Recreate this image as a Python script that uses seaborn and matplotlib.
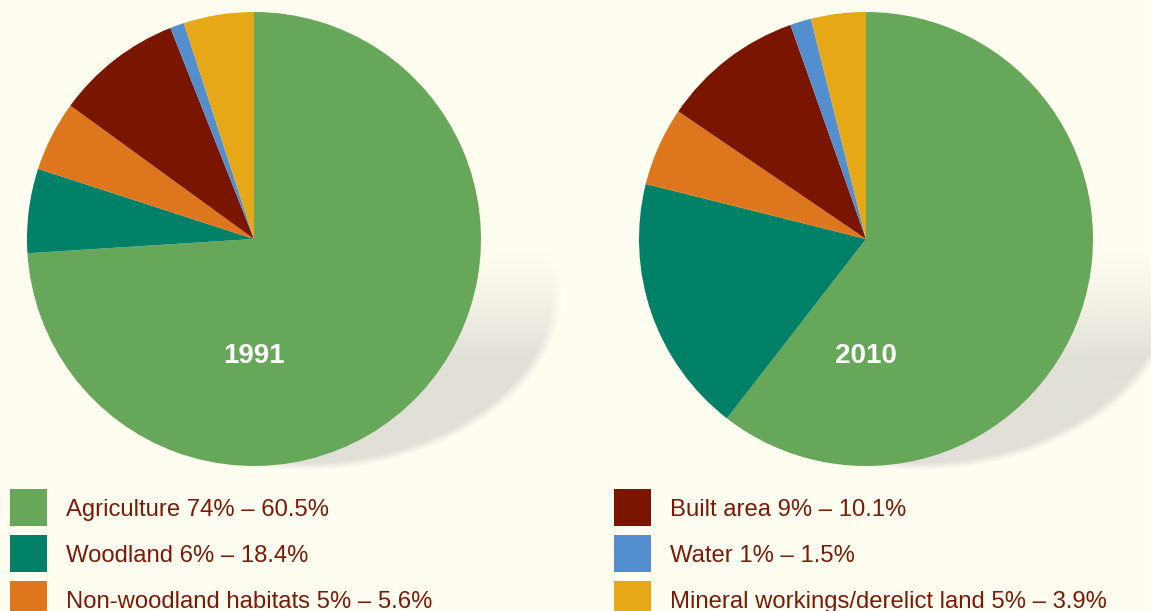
import matplotlib
matplotlib.use("Agg")
import numpy as np
import matplotlib.pyplot as plt
from matplotlib.colors import to_rgb
from matplotlib.patches import Rectangle
import seaborn as sns

categories = ["Agriculture", "Woodland", "Non-woodland habitats",
              "Built area", "Water", "Mineral workings/derelict land"]
share_1991 = [74, 6, 5, 9, 1, 5]
share_2010 = [60.5, 18.4, 5.6, 10.1, 1.5, 3.9]
years = ["1991", "2010"]
legend_labels = ["Agriculture 74% \u2013 60.5%", "Woodland 6% \u2013 18.4%",
                 "Non-woodland habitats 5% \u2013 5.6%", "Built area 9% \u2013 10.1%",
                 "Water 1% \u2013 1.5%", "Mineral workings/derelict land 5% \u2013 3.9%"]

colors = ["#66a75a", "#008067", "#de761d", "#7a1600", "#538fcf", "#e6a817"]
bg = "#fffdf0"
text_col = "#7a1a08"
shadow_col = "#e1e0d7"

sns.set_style("white")
plt.rcParams["font.family"] = ["Liberation Sans", "DejaVu Sans"]

fig = plt.figure(figsize=(11.51, 6.11), dpi=100, facecolor=bg)
ax = fig.add_axes([0, 0, 1, 1])
ax.set_facecolor(bg)

H = 611
centers = [(254, H - 239), (866, H - 239)]
radius = 227


def shadow(cx, cy):
    # soft elliptical drop shadow below-right of the pie, fading towards the top
    ex, ey, a, b, ang = cx + 78, cy - 74, 232, 156, np.deg2rad(8)
    xs = np.arange(ex - a - 20, ex + a + 20)
    ys = np.arange(ey - b - 20, ey + b + 20)
    X, Y = np.meshgrid(xs, ys)
    u = (X - ex) * np.cos(ang) + (Y - ey) * np.sin(ang)
    v = -(X - ex) * np.sin(ang) + (Y - ey) * np.cos(ang)
    d = np.sqrt((u / a) ** 2 + (v / b) ** 2)
    edge = np.clip((1 - d) / 0.05, 0, 1)
    vert = np.clip((cy - 10 - Y) / 110, 0, 1) ** 1.3
    alpha = edge * vert
    img = np.zeros(X.shape + (4,))
    img[..., :3] = to_rgb(shadow_col)
    img[..., 3] = alpha
    ax.imshow(img, extent=(xs[0], xs[-1], ys[0], ys[-1]), origin="lower",
              aspect="auto", zorder=1, interpolation="bilinear")


for (cx, cy), vals, yr in zip(centers, [share_1991, share_2010], years):
    shadow(cx, cy)
    ax.pie(vals, colors=colors, startangle=90, counterclock=False,
           center=(cx, cy), radius=radius, wedgeprops=dict(linewidth=0, zorder=3))
    ax.text(cx, cy - 124, yr, color="white", fontsize=20, fontweight="bold",
            ha="center", va="baseline", zorder=5)

ax.set_xlim(0, 1151)
ax.set_ylim(0, H)
ax.set_aspect("auto")
ax.axis("off")

for i, (lab, col) in enumerate(zip(legend_labels, colors)):
    row, colm = i % 3, i // 3
    x0 = [10, 614][colm]
    top = 489 + 46 * row
    ax.add_patch(Rectangle((x0, H - top - 37), 37, 37, facecolor=col,
                           edgecolor="none", zorder=4))
    ax.text(x0 + 56, H - (top + 27), lab, color=text_col, fontsize=17.2,
            ha="left", va="baseline", zorder=5)

fig.savefig("out.png", dpi=100, facecolor=bg)
